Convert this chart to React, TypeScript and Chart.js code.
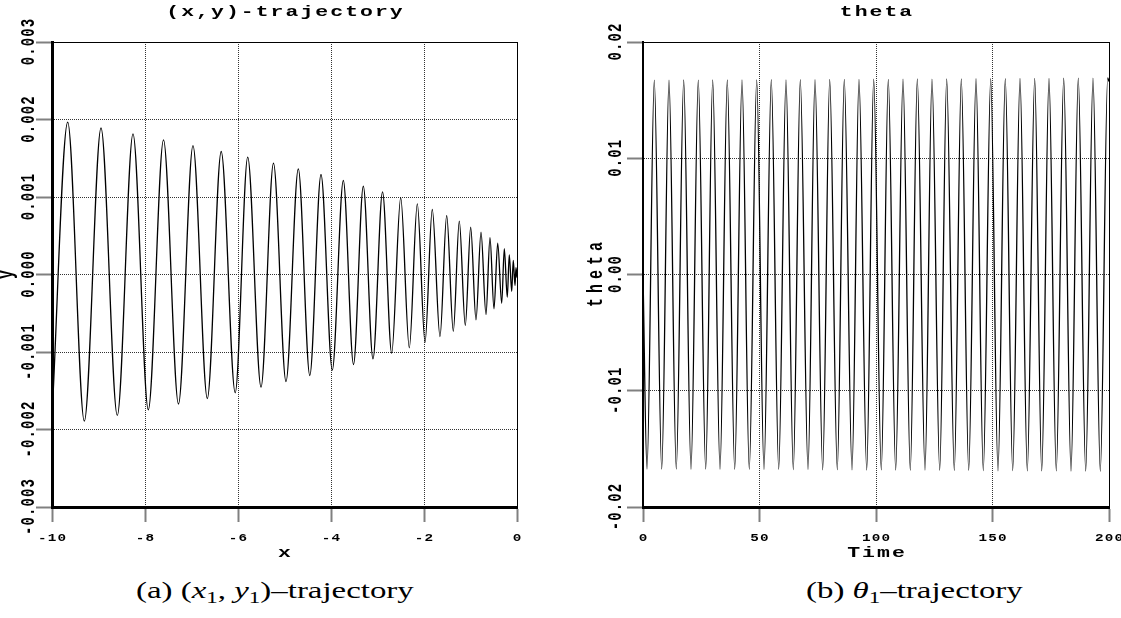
import React, { useEffect, useRef } from "react";
import { Chart, registerables } from "chart.js";

Chart.register(...registerables);

// ---------------- data: (x,y)-trajectory (extrema) ----------------
const xyStart = { x: -10, y: -0.00184 };
const xyEnd = { x: 0, y: -0.00004 };
const xyPeakX = [-9.662, -8.946, -8.258, -7.602, -6.968, -6.361, -5.791, -5.237, -4.703, -4.215, -3.735, -3.305, -2.892, -2.501, -2.144, -1.822, -1.512, -1.241, -0.996, -0.774, -0.581, -0.415, -0.273, -0.166, -0.08, -0.022];
const xyPeakY = [0.001965, 0.00189, 0.001815, 0.001738, 0.001662, 0.001587, 0.001514, 0.001436, 0.001364, 0.00129, 0.001213, 0.001139, 0.001065, 0.00099, 0.000912, 0.000839, 0.000761, 0.000688, 0.00061, 0.000546, 0.000474, 0.000404, 0.000332, 0.000254, 0.000181, 0.00009];
const xyTroughX = [-9.305, -8.596, -7.929, -7.28, -6.66, -6.06, -5.505, -4.968, -4.456, -3.972, -3.516, -3.097, -2.695, -2.316, -1.978, -1.656, -1.37, -1.112, -0.882, -0.667, -0.495, -0.329, -0.209, -0.114, -0.043];
const xyTroughY = [-0.001893, -0.001819, -0.001746, -0.001671, -0.0016, -0.001526, -0.001453, -0.001381, -0.001303, -0.001232, -0.001161, -0.001088, -0.001015, -0.000946, -0.000874, -0.0008, -0.000732, -0.000658, -0.000585, -0.000516, -0.000443, -0.00037, -0.000293, -0.000216, -0.000142];
const xyXTicks = [-10, -8, -6, -4, -2, 0];
const xyYTicks = [-0.003, -0.002, -0.001, 0, 0.001, 0.002, 0.003];

// ---------------- data: theta vs Time ----------------
const thetaStart = { x: 0, y: 0 };
const thetaEnd = { x: 200, y: 0.0166 };
const thetaTroughT = [1.72, 8.03, 14.29, 20.6, 26.91, 33.05, 39.36, 45.62, 51.93, 58.24, 64.51, 70.82, 77.12, 83.39, 89.7, 96.01, 102.27, 108.45, 114.72, 121.03, 127.34, 133.61, 139.79, 146.05, 152.36, 158.67, 164.94, 171.12, 177.38, 183.69, 190.0, 196.27];
const thetaTroughV = [-0.01674, -0.01675, -0.01674, -0.01676, -0.01675, -0.01676, -0.01677, -0.01676, -0.01678, -0.01677, -0.01679, -0.01678, -0.0168, -0.01679, -0.01681, -0.01682, -0.01681, -0.01683, -0.01684, -0.01683, -0.01685, -0.01686, -0.01685, -0.01687, -0.01688, -0.01687, -0.01689, -0.0169, -0.01689, -0.01691, -0.01692, -0.01693];
const thetaPeakT = [4.85, 11.16, 17.47, 23.73, 29.91, 36.18, 42.49, 48.8, 55.06, 61.37, 67.51, 73.82, 80.13, 86.39, 92.7, 99.01, 105.28, 111.59, 117.73, 124.03, 130.34, 136.61, 142.92, 149.23, 155.49, 161.8, 168.11, 174.25, 180.56, 186.82, 193.13, 199.44];
const thetaPeakV = [0.01672, 0.01671, 0.01673, 0.01672, 0.01674, 0.01673, 0.01675, 0.01674, 0.01676, 0.01675, 0.01677, 0.01676, 0.01678, 0.01679, 0.01678, 0.0168, 0.01679, 0.01681, 0.01682, 0.01681, 0.01683, 0.01682, 0.01684, 0.01685, 0.01684, 0.01686, 0.01687, 0.01686, 0.01688, 0.01689, 0.0169, 0.01691];
const timeTicks = [0, 50, 100, 150, 200];
const thetaTicks = [-0.02, -0.01, 0, 0.01, 0.02];

// ---------------- styling ----------------
const MONO = "'Liberation Mono', 'DejaVu Sans Mono', monospace";
const TEXT_STRETCH = 1.43;

function spacingPx(font: string, rotated: boolean): number {
  const m = /(\d+(?:\.\d+)?)px/.exec(font);
  const size = m ? parseFloat(m[1]) : 12;
  if (size <= 10.5) return 0.8;
  if (size <= 14.2) return 1.1;
  return rotated ? 5 : 1.42;
}

function patchContext(ctx: any) {
  const proto: any = CanvasRenderingContext2D.prototype;
  ctx.measureText = function (text: string) {
    this.letterSpacing = spacingPx(this.font, false) + "px";
    return proto.measureText.call(this, text);
  };
  ctx.fillText = function (text: string, x: number, y: number) {
    const m: DOMMatrix = this.getTransform();
    const rotated = Math.abs(m.b) > 1e-6;
    const ls = spacingPx(this.font, rotated);
    this.save();
    this.letterSpacing = "0px";
    const str = String(text);
    const w0 = proto.measureText.call(this, str).width;
    const n = Array.from(str).length;
    const vis = w0 + Math.max(0, n - 1) * ls;
    const align = this.textAlign;
    let x0 = x;
    if (align === "center") x0 = x - vis / 2;
    else if (align === "right" || align === "end") x0 = x - vis;
    this.textAlign = "left";
    this.letterSpacing = ls + "px";
    const p = m.transformPoint(new DOMPoint(x, y));
    const s = new DOMMatrix([TEXT_STRETCH, 0, 0, 1, p.x * (1 - TEXT_STRETCH), 0]);
    this.setTransform(s.multiply(m));
    proto.fillText.call(this, str, x0, y);
    this.restore();
  };
}

function mergeExtrema(start: any, hiX: number[], hiY: number[], loX: number[], loY: number[], end: any) {
  const pts: { x: number; y: number }[] = [start];
  hiX.forEach((x, i) => pts.push({ x, y: hiY[i] }));
  loX.forEach((x, i) => pts.push({ x, y: loY[i] }));
  pts.push(end);
  pts.sort((a, b) => a.x - b.x);
  return pts;
}

const tickFontX = { family: MONO, size: 10, weight: "bold" as const, lineHeight: 1.2 };
const tickFontY = { family: MONO, size: 14, weight: "bold" as const, lineHeight: 1.2 };
const titleFont = { family: MONO, size: 15, weight: "bold" as const, lineHeight: 1.2 };

interface PanelSpec {
  title: string;
  points: { x: number; y: number }[];
  xMin: number; xMax: number; xTicks: number[]; xFmt: (v: number) => string; xTitle: string;
  yMin: number; yMax: number; yTicks: number[]; yFmt: (v: number) => string; yTitle: string;
  yAxisWidth: number; padRight: number; yTickPad: number; yTitlePad: number; yBorder: number;
}

function makeConfig(p: PanelSpec): any {
  return {
    type: "line",
    data: {
      datasets: [
        {
          data: p.points,
          borderColor: "#000",
          borderWidth: 1.3,
          pointRadius: 0,
          cubicInterpolationMode: "monotone",
          fill: false,
        },
      ],
    },
    options: {
      responsive: false,
      maintainAspectRatio: false,
      animation: false,
      devicePixelRatio: 1,
      events: [],
      layout: { padding: { left: 0, right: p.padRight, top: 0, bottom: 0 } },
      plugins: {
        legend: { display: false },
        tooltip: { enabled: false },
        title: {
          display: true,
          fullSize: false,
          text: p.title,
          color: "#000",
          font: titleFont,
          padding: { top: 3.5, bottom: 20.5 },
        },
      },
      scales: {
        x: {
          type: "linear",
          position: "bottom",
          min: p.xMin,
          max: p.xMax,
          afterBuildTicks: (s: any) => { s.ticks = p.xTicks.map((v) => ({ value: v })); },
          afterFit: (s: any) => { s.height = 63; s.paddingLeft = 0; s.paddingRight = 0; },
          ticks: { color: "#000", font: tickFontX, padding: 10.5, maxRotation: 0, minRotation: 0, autoSkip: false, callback: (v: any) => p.xFmt(Number(v)) },
          grid: { color: "#333", lineWidth: 1, tickLength: 15, tickColor: "#808080", tickWidth: 2 },
          border: { display: true, color: "#000", width: 3, dash: [1, 1] },
          title: { display: true, text: p.xTitle, color: "#000", font: titleFont, padding: { top: 0, bottom: 7.5 } },
        },
        y: {
          type: "linear",
          position: "left",
          min: p.yMin,
          max: p.yMax,
          afterBuildTicks: (s: any) => { s.ticks = p.yTicks.map((v) => ({ value: v })); },
          afterFit: (s: any) => { s.width = p.yAxisWidth; s.paddingTop = 0; s.paddingBottom = 0; },
          ticks: { color: "#000", font: tickFontY, padding: p.yTickPad, minRotation: 90, maxRotation: 90, crossAlign: "center", autoSkip: false, callback: (v: any) => p.yFmt(Number(v)) },
          grid: { color: "#333", lineWidth: 1, tickLength: 16, tickColor: "#808080", tickWidth: 2 },
          border: { display: true, color: "#000", width: p.yBorder, dash: [1, 1] },
          title: { display: true, text: p.yTitle, color: "#000", font: titleFont, padding: { top: p.yTitlePad, bottom: 0 } },
        },
        x2: {
          type: "linear",
          position: "top",
          min: p.xMin,
          max: p.xMax,
          afterFit: (s: any) => { s.height = 0; s.paddingLeft = 0; s.paddingRight = 0; },
          ticks: { display: false },
          grid: { drawOnChartArea: false, drawTicks: false },
          border: { display: true, color: "#000", width: 1 },
        },
        y2: {
          type: "linear",
          position: "right",
          min: p.yMin,
          max: p.yMax,
          afterFit: (s: any) => { s.width = 0; s.paddingTop = 0; s.paddingBottom = 0; },
          ticks: { display: false },
          grid: { drawOnChartArea: false, drawTicks: false },
          border: { display: true, color: "#000", width: 1 },
        },
      },
    },
  };
}

function fmtFixed(d: number) {
  return (v: number) => (Math.abs(v) < 1e-12 ? (0).toFixed(d) : v.toFixed(d));
}

function Panel({ spec, left, width, height }: { spec: () => PanelSpec; left: number; width: number; height: number }) {
  const ref = useRef<HTMLCanvasElement>(null);
  useEffect(() => {
    const canvas = ref.current!;
    const ctx = canvas.getContext("2d")!;
    patchContext(ctx);
    const chart = new Chart(ctx, makeConfig(spec()));
    return () => chart.destroy();
  }, []);
  return (
    <canvas
      ref={ref}
      width={width}
      height={height}
      style={{ position: "absolute", left, top: 0, width, height, display: "block" }}
    />
  );
}

const leftSpec = (): PanelSpec => ({
  title: "(x,y)-trajectory",
  points: mergeExtrema(xyStart, xyPeakX, xyPeakY, xyTroughX, xyTroughY, xyEnd),
  xMin: -10, xMax: 0, xTicks: xyXTicks, xFmt: (v) => String(Math.round(v)), xTitle: "x",
  yMin: -0.003, yMax: 0.003, yTicks: xyYTicks, yFmt: fmtFixed(3), yTitle: "y",
  yAxisWidth: 52, padRight: 43, yTickPad: -21.5, yTitlePad: -2, yBorder: 3,
});

const rightSpec = (): PanelSpec => ({
  title: "theta",
  points: mergeExtrema(thetaStart, thetaPeakT, thetaPeakV, thetaTroughT, thetaTroughV, thetaEnd),
  xMin: 0, xMax: 200, xTicks: timeTicks, xFmt: (v) => String(Math.round(v)), xTitle: "Time",
  yMin: -0.02, yMax: 0.02, yTicks: thetaTicks, yFmt: fmtFixed(2), yTitle: "theta",
  yAxisWidth: 83, padRight: 12, yTickPad: -12.75, yTitlePad: 28, yBorder: 2,
});

const captionStyle: React.CSSProperties = {
  position: "absolute",
  top: 579,
  fontFamily: "'Liberation Serif', 'DejaVu Serif', serif",
  fontSize: 23,
  lineHeight: "23px",
  whiteSpace: "nowrap",
  color: "#000",
  transform: `scaleX(${TEXT_STRETCH})`,
  transformOrigin: "left top",
};
const subStyle: React.CSSProperties = { fontSize: "0.7em", position: "relative", top: "0.3em" };

export default function App() {
  return (
    <div style={{ position: "absolute", left: 0, top: 0, width: 1121, height: 618, background: "#fff", overflow: "hidden" }}>
      <Panel spec={leftSpec} left={0} width={560} height={570} />
      <Panel spec={rightSpec} left={560} width={561} height={570} />
      <div style={{ ...captionStyle, left: 136 }}>
        (a) (<i>x</i><span style={subStyle}>1</span>, <i>y</i><span style={subStyle}>1</span>)–trajectory
      </div>
      <div style={{ ...captionStyle, left: 806 }}>
        (b) <i>θ</i><span style={subStyle}>1</span>–trajectory
      </div>
    </div>
  );
}
